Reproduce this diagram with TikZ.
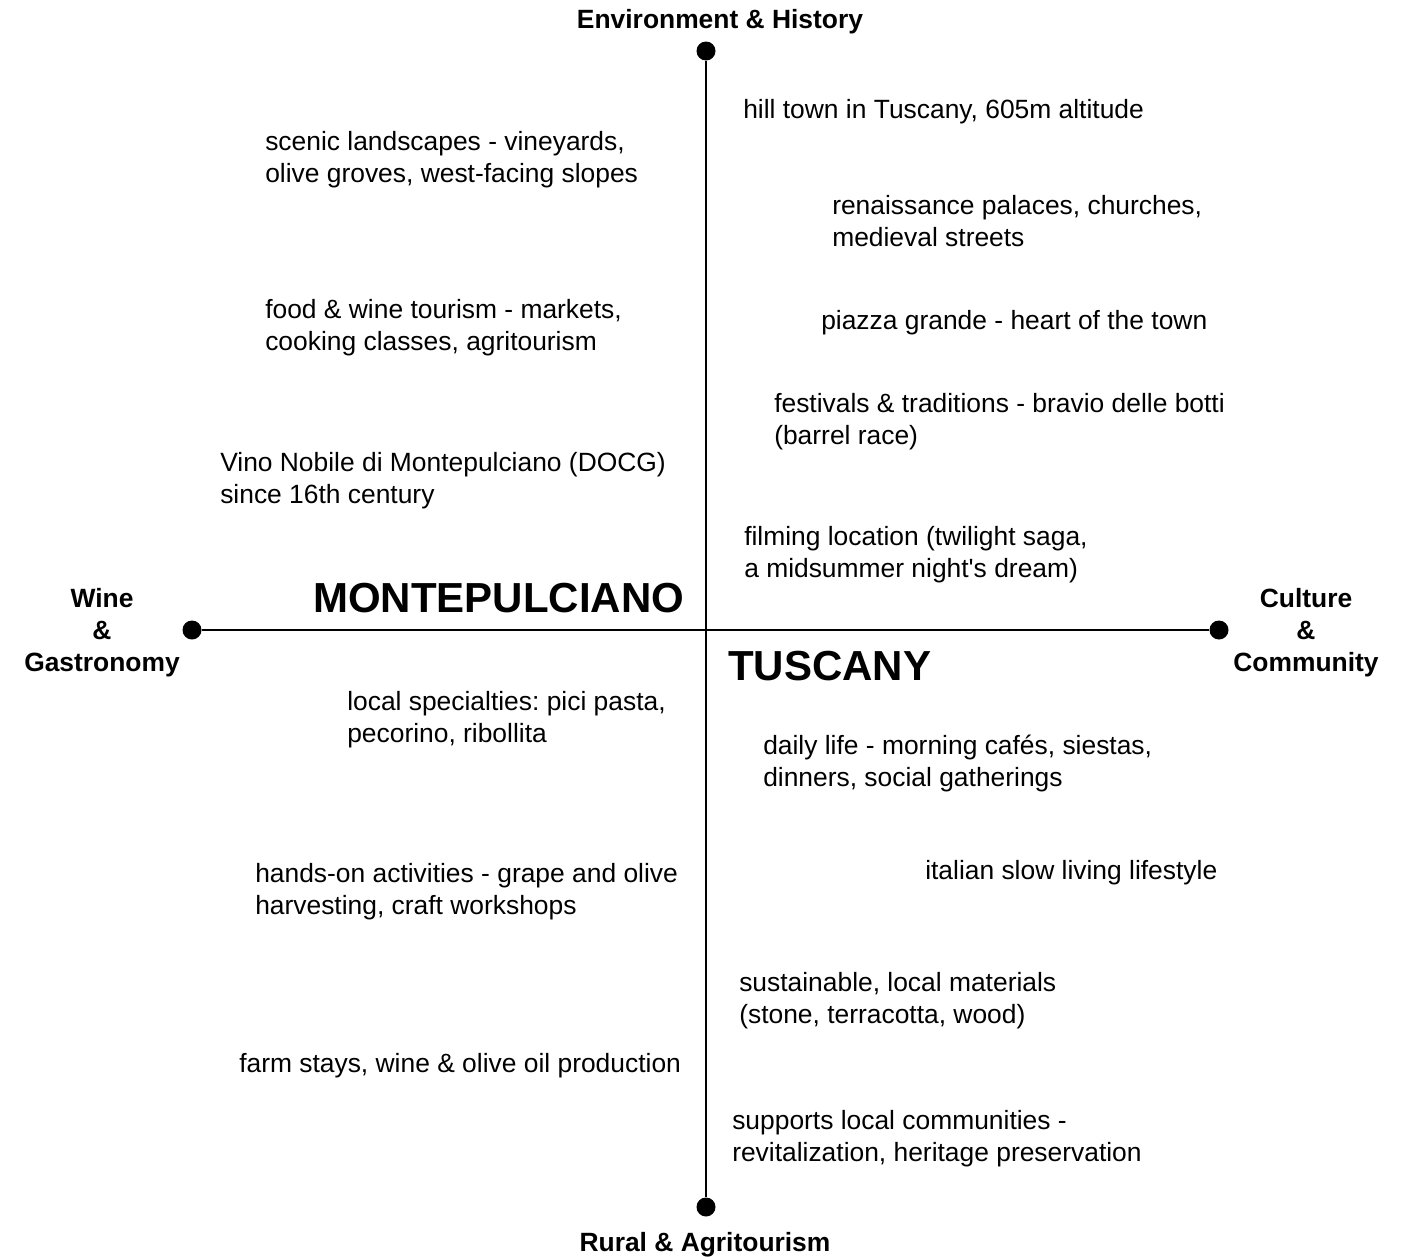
\documentclass[tikz,border=0pt]{standalone}
\usepackage{fontspec}
\setmainfont{Liberation Sans}
\frenchspacing
\tikzset{
  note/.style={anchor=base west,align=left,inner sep=0pt,
    font=\fontsize{19.8pt}{24pt}\selectfont},
  axislabel/.style={anchor=base,align=center,inner sep=0pt,
    font=\fontsize{19.8pt}{24pt}\selectfont\bfseries},
  bigname/.style={anchor=base west,inner sep=0pt,
    font=\fontsize{31.5pt}{36pt}\selectfont\bfseries},
  enddot/.style={circle,fill=black,inner sep=0pt,minimum size=14.25pt},
}
\begin{document}
\begin{tikzpicture}[x=0.75pt,y=-0.75pt]
\useasboundingbox (0,0) rectangle (1411,1257);
% axes
\node[enddot] (top) at (706,51) {};
\node[enddot] (bottom) at (706,1207) {};
\node[enddot] (left) at (192,630) {};
\node[enddot] (right) at (1219,630) {};
\draw[line width=2.1pt] (top) -- (bottom);
\draw[line width=2.1pt] (left) -- (right);
% axis labels (base = last line)
\node[axislabel] (envlabel) at (720,28) {Environment \& History};
\node[axislabel] (rurallabel) at (705,1251) {Rural \& Agritourism};
\node[axislabel] (winelabel) at (102,671) {Wine\\\&\\Gastronomy};
\node[axislabel] (culturelabel) at (1306,671) {Culture\\\&\\Community};
% titles
\node[bigname] (montepulciano) at (313,612) {MONTEPULCIANO};
\node[bigname] (tuscany) at (728,680) {TUSCANY};
% upper left
\node[note] (scenic) at (265,182) {scenic landscapes - vineyards,\\olive groves, west-facing slopes};
\node[note] (foodwine) at (265,350) {food \& wine tourism - markets,\\cooking classes, agritourism};
\node[note] (vino) at (220,503) {Vino Nobile di Montepulciano (DOCG)\\since 16th century};
% upper right
\node[note] (hilltown) at (743,118) {hill town in Tuscany, 605m altitude};
\node[note] (palaces) at (832,246) {renaissance palaces, churches,\\medieval streets};
\node[note] (piazza) at (821,329) {piazza grande - heart of the town};
\node[note] (festivals) at (774,444) {festivals \& traditions - bravio delle botti\\(barrel race)};
\node[note] (filming) at (744,577) {filming location (twilight saga,\\a midsummer night\textquotesingle s dream)};
% lower left
\node[note] (specialties) at (347,742) {local specialties: pici pasta,\\pecorino, ribollita};
\node[note] (handson) at (255,914) {hands-on activities - grape and olive\\harvesting, craft workshops};
\node[note] (farmstays) at (239,1072) {farm stays, wine \& olive oil production};
% lower right
\node[note] (dailylife) at (763,786) {daily life - morning cafés, siestas,\\dinners, social gatherings};
\node[note] (slowliving) at (925,879) {italian slow living lifestyle};
\node[note] (materials) at (739,1023) {sustainable, local materials\\(stone, terracotta, wood)};
\node[note] (communities) at (732,1161) {supports local communities -\\revitalization, heritage preservation};
\end{tikzpicture}
\end{document}
